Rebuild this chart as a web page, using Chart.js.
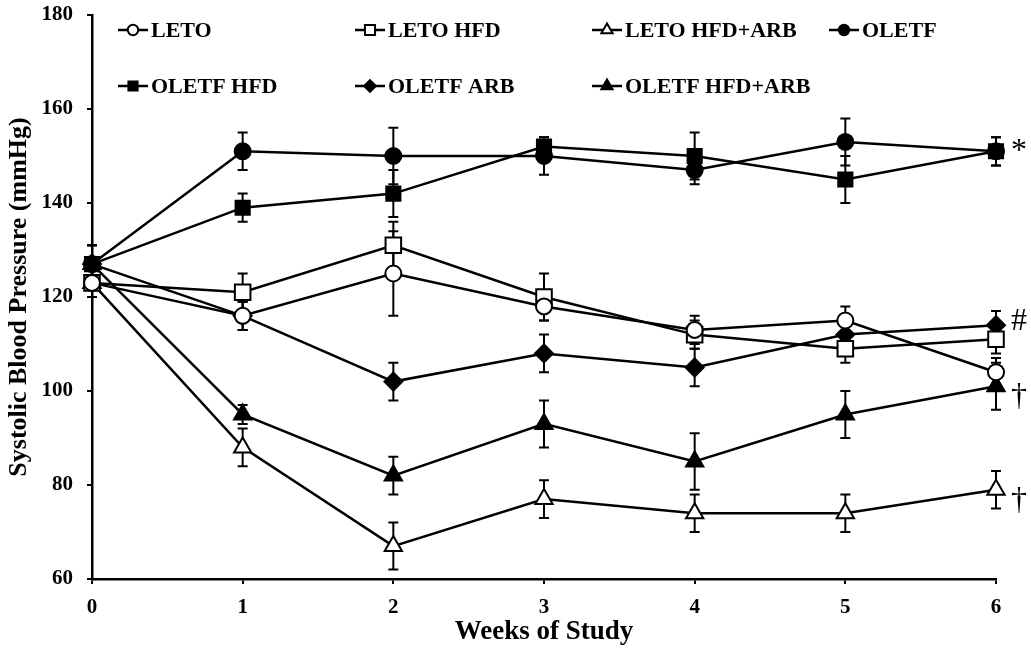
<!DOCTYPE html>
<html>
<head>
<style>
  body { margin: 0; background: #fff; }
  #wrap { width: 1031px; height: 648px; }
</style>
</head>
<body>
<div id="wrap"><canvas id="chart" width="1031" height="648"></canvas></div>
<script src="https://cdn.jsdelivr.net/npm/chart.js"></script>
<script>
const FONT = "'Liberation Serif', 'Times New Roman', serif";

const weeks = [0, 1, 2, 3, 4, 5, 6];
const yTicks = [60, 80, 100, 120, 140, 160, 180];

// mean systolic BP per group
const leto          = [123, 116, 125, 118, 113, 115, 104];
const letoHfd       = [123, 121, 131, 120, 112, 109, 111];
const letoHfdArb    = [123,  88,  67,  77,  74,  74,  79];
const oletf         = [127, 151, 150, 150, 147, 153, 151];
const oletfHfd      = [127, 139, 142, 152, 150, 145, 151];
const oletfArb      = [127, 116, 102, 108, 105, 112, 114];
const oletfHfdArb   = [127,  95,  82,  93,  85,  95, 101];

// error bars (+/-)
const letoErr        = [3, 3, 9, 3, 3, 3, 3];
const letoHfdErr     = [3, 4, 5, 5, 3, 3, 3];
const letoHfdArbErr  = [3, 4, 5, 4, 4, 4, 4];
const oletfErr       = [4, 4, 6, 4, 3, 5, 3];
const oletfHfdErr    = [4, 3, 5, 2, 5, 5, 3];
const oletfArbErr    = [4, 3, 4, 4, 4, 3, 3];
const oletfHfdArbErr = [4, 2, 4, 5, 6, 5, 5];

const seriesNames = ['LETO', 'LETO HFD', 'LETO HFD+ARB', 'OLETF', 'OLETF HFD', 'OLETF ARB', 'OLETF HFD+ARB'];
const seriesValues = [leto, letoHfd, letoHfdArb, oletf, oletfHfd, oletfArb, oletfHfdArb];
const seriesErrors = [letoErr, letoHfdErr, letoHfdArbErr, oletfErr, oletfHfdErr, oletfArbErr, oletfHfdArbErr];
const seriesShapes = ['circle', 'rect', 'triangle', 'circle', 'rect', 'rectRot', 'triangle'];
const seriesFilled = [false, false, false, true, true, true, true];
const seriesRadius = [8, 11, 10, 8, 10, 9, 10];

// significance marks at the end of lines
const noteSymbols = ['*', '#', '\u2020', '\u2020'];
const noteSeries  = [3, 5, 6, 2];

const datasets = seriesNames.map((name, i) => ({
    label: name,
    data: weeks.map((w, j) => ({ x: w, y: seriesValues[i][j] })),
    errors: seriesErrors[i],
    borderColor: '#000',
    borderWidth: 2.5,
    pointStyle: seriesShapes[i],
    pointRadius: seriesRadius[i],
    pointHoverRadius: seriesRadius[i],
    pointBorderWidth: 2,
    pointBorderColor: '#000',
    pointBackgroundColor: seriesFilled[i] ? '#000' : '#fff',
    fill: false,
    tension: 0,
    clip: false
}));

// vertical error bars, drawn under the markers
const errorBars = {
    id: 'errorBars',
    beforeDatasetsDraw(chart) {
        const ctx = chart.ctx;
        const yScale = chart.scales.y;
        ctx.save();
        ctx.strokeStyle = '#000';
        ctx.lineWidth = 2;
        chart.data.datasets.forEach((ds, i) => {
            const meta = chart.getDatasetMeta(i);
            meta.data.forEach((pt, j) => {
                const v = ds.data[j].y, e = ds.errors[j];
                const top = yScale.getPixelForValue(v + e);
                const bot = yScale.getPixelForValue(v - e);
                ctx.beginPath();
                ctx.moveTo(pt.x, top); ctx.lineTo(pt.x, bot);
                ctx.moveTo(pt.x - 5, top); ctx.lineTo(pt.x + 5, top);
                ctx.moveTo(pt.x - 5, bot); ctx.lineTo(pt.x + 5, bot);
                ctx.stroke();
            });
        });
        ctx.restore();
    }
};

// legend inside the plot, 4 columns / 2 rows, plus the significance marks
const insideLegend = {
    id: 'insideLegend',
    afterDraw(chart) {
        const ctx = chart.ctx;
        const area = chart.chartArea;
        ctx.save();
        ctx.font = 'bold 22px ' + FONT;
        ctx.textBaseline = 'middle';
        chart.data.datasets.forEach((ds, i) => {
            const col = i % 4, row = Math.floor(i / 4);
            const x = area.left + 26 + col * 237;
            const y = area.top + 15 + row * 56;
            ctx.strokeStyle = '#000';
            ctx.lineWidth = 2.5;
            ctx.beginPath();
            ctx.moveTo(x, y); ctx.lineTo(x + 30, y);
            ctx.stroke();
            ctx.fillStyle = ds.pointBackgroundColor;
            ctx.lineWidth = 2;
            Chart.helpers.drawPoint(ctx, {
                pointStyle: ds.pointStyle,
                radius: ds.pointRadius * 0.65,
                rotation: 0,
                borderWidth: 2
            }, x + 15, y);
            ctx.fillStyle = '#000';
            ctx.textAlign = 'left';
            ctx.fillText(ds.label, x + 33, y + 1);
        });
        const xs = chart.scales.x, ys = chart.scales.y;
        ctx.font = '32px ' + FONT;
        ctx.textBaseline = 'alphabetic';
        noteSymbols.forEach((s, k) => {
            const vals = seriesValues[noteSeries[k]];
            const px = xs.getPixelForValue(weeks[weeks.length - 1]) + 15;
            const py = ys.getPixelForValue(vals[vals.length - 1]);
            const dy = s === '*' ? 9 : (s === '#' ? 5 : 19);
            ctx.fillText(s, px, py + dy);
        });
        ctx.restore();
    }
};

const ctx = document.getElementById('chart').getContext('2d');
const chart = new Chart(ctx, {
    type: 'line',
    data: { datasets: datasets },
    options: {
        responsive: false,
        animation: false,
        layout: { padding: { top: 15, right: 35, left: 0, bottom: 0 } },
        plugins: {
            legend: { display: false },
            tooltip: { enabled: false }
        },
        scales: {
            x: {
                type: 'linear',
                min: 0,
                max: 6,
                afterFit: s => { s.height = 69; s.paddingLeft = 0; s.paddingRight = 0; },
                afterBuildTicks: s => { s.ticks = weeks.map(v => ({ value: v })); },
                border: { color: '#000', width: 2.5 },
                grid: { drawOnChartArea: false, tickLength: 5, color: '#000', lineWidth: 2 },
                ticks: { color: '#000', padding: 11, font: { family: FONT, size: 21, weight: 'bold' } },
                title: {
                    display: true,
                    text: 'Weeks of Study',
                    color: '#000',
                    padding: { top: 0, bottom: 0 },
                    font: { family: FONT, size: 27, weight: 'bold' }
                }
            },
            y: {
                type: 'linear',
                min: 60,
                max: 180,
                afterFit: s => { s.width = 92; s.paddingTop = 0; s.paddingBottom = 0; },
                afterBuildTicks: s => { s.ticks = yTicks.map(v => ({ value: v })); },
                border: { color: '#000', width: 2.5 },
                grid: { drawOnChartArea: false, tickLength: 5, color: '#000', lineWidth: 2 },
                ticks: { color: '#000', padding: 14, font: { family: FONT, size: 21, weight: 'bold' } },
                title: {
                    display: true,
                    text: 'Systolic Blood Pressure (mmHg)',
                    color: '#000',
                    padding: { top: 4, bottom: 0 },
                    font: { family: FONT, size: 26, weight: 'bold' }
                }
            }
        }
    },
    plugins: [errorBars, insideLegend]
});
</script>
</body>
</html>
